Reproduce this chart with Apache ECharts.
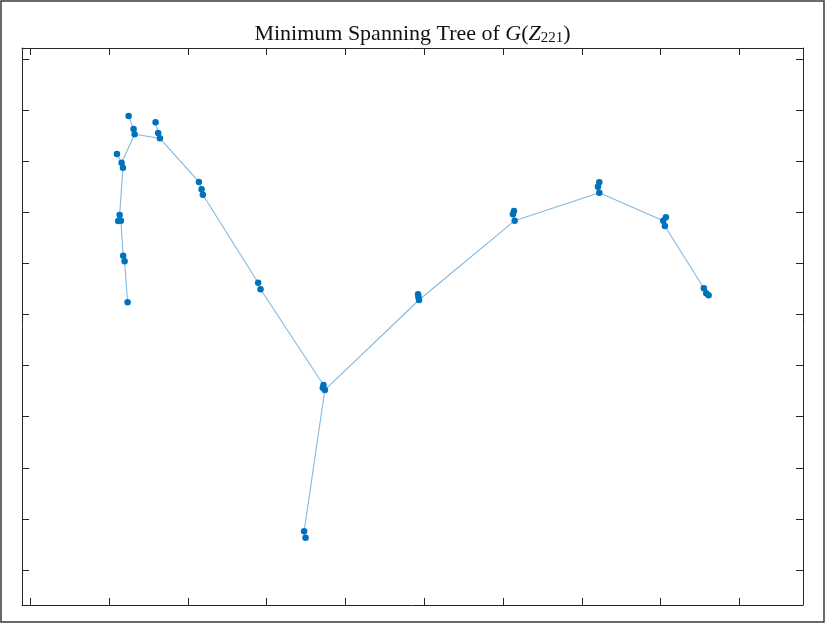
<!DOCTYPE html>
<html>
<head>
<meta charset="utf-8">
<script src="https://cdn.jsdelivr.net/npm/echarts@6/dist/echarts.min.js"></script>
<style>
  html, body { margin: 0; padding: 0; background: #fff; }
  #chart { width: 825px; height: 623px; }
</style>
</head>
<body>
<div id="chart"></div>
<script>
// Node coordinates of the embedded points
const nodeX = [1.235, 1.197, 1.179, 1.150, 1.116, 1.134, 1.176, 1.159, 1.100, 1.324,
               1.311, 1.248, 1.645, 1.623, 1.590, 2.140, 2.174, 2.190, 2.892, 2.922,
               3.721, 3.712, 3.738, 3.475, 3.493, 4.921, 4.926, 4.933, 6.138, 6.125,
               6.147, 7.221, 7.204, 7.221, 8.066, 8.033, 8.053, 8.548, 8.578, 8.608];
const nodeY = [5.239, 6.041, 6.151, 6.836, 6.830, 6.947, 7.873, 7.971, 8.141, 8.526,
               8.630, 8.885, 8.448, 8.552, 8.761, 7.593, 7.450, 7.344, 5.622, 5.493,
               3.620, 3.568, 3.523, 0.757, 0.632, 5.395, 5.342, 5.284, 7.025, 6.961,
               6.836, 7.587, 7.501, 7.384, 6.902, 6.836, 6.732, 5.513, 5.415, 5.376];

// Tree edges (node index pairs)
const edgeFrom = [0, 1, 2, 3, 4, 5, 6, 7, 7, 9, 10, 9, 12, 13, 12, 15, 16, 17, 18, 19,
                  20, 21, 22, 23, 22, 27, 26, 27, 30, 29, 30, 33, 32, 33, 35, 35, 36, 37, 38];
const edgeTo   = [1, 2, 3, 4, 5, 6, 7, 8, 9, 10, 11, 12, 13, 14, 15, 16, 17, 18, 19, 20,
                  21, 22, 23, 24, 27, 26, 25, 30, 29, 28, 33, 32, 31, 35, 34, 36, 37, 38, 39];

// Axis tick positions (no labels drawn)
const xTicks = [0, 1, 2, 3, 4, 5, 6, 7, 8, 9];
const yTicks = [0, 1, 2, 3, 4, 5, 6, 7, 8, 9, 10];

const X_MIN = -0.105, X_MAX = 9.806;
const Y_MIN = -0.685, Y_MAX = 10.215;

const chart = echarts.init(document.getElementById('chart'), null, { renderer: 'canvas' });

const axisColor = '#262626';

function xAxisDef(pos) {
  return {
    type: 'value', position: pos, min: X_MIN, max: X_MAX,
    axisLine: { show: true, onZero: false, lineStyle: { color: axisColor, width: 1 } },
    axisTick: { show: true, inside: true, length: 7, customValues: xTicks,
                lineStyle: { color: axisColor, width: 1 } },
    axisLabel: { show: false },
    splitLine: { show: false }
  };
}
function yAxisDef(pos) {
  return {
    type: 'value', position: pos, min: Y_MIN, max: Y_MAX,
    axisLine: { show: true, onZero: false, lineStyle: { color: axisColor, width: 1 } },
    axisTick: { show: true, inside: true, length: 7, customValues: yTicks,
                lineStyle: { color: axisColor, width: 1 } },
    axisLabel: { show: false },
    splitLine: { show: false }
  };
}

const nodes = nodeX.map((x, i) => ({ value: [x, nodeY[i]] }));
const links = edgeFrom.map((s, i) => ({ source: s, target: edgeTo[i] }));

const serif = 'Liberation Serif';

chart.setOption({
  animation: false,
  backgroundColor: '#ffffff',
  title: {
    left: 'center',
    top: 17,
    text: '{t|Minimum Spanning Tree of }{g|G}{t|(}{z|Z}{s|221}{t|)}',
    textStyle: {
      fontWeight: 'normal',
      rich: {
        t: { fontFamily: serif, fontSize: 22, fontWeight: 'normal', color: '#111' },
        g: { fontFamily: serif, fontSize: 22, fontWeight: 'normal', fontStyle: 'italic', color: '#111' },
        z: { fontFamily: serif, fontSize: 22, fontWeight: 'normal', fontStyle: 'italic', color: '#111' },
        s: { fontFamily: serif, fontSize: 15, fontWeight: 'normal', color: '#111',
             verticalAlign: 'bottom', padding: [9, 0, 0, 0] }
      }
    }
  },
  graphic: [{
    type: 'rect',
    shape: { x: 1, y: 1, width: 823, height: 621 },
    style: { fill: 'none', stroke: '#3a3a3a', lineWidth: 1.5 },
    silent: true
  }],
  grid: { left: 22, top: 48, width: 781, height: 557, containLabel: false },
  xAxis: [xAxisDef('bottom'), xAxisDef('top')],
  yAxis: [yAxisDef('left'), yAxisDef('right')],
  series: [{
    type: 'graph',
    coordinateSystem: 'cartesian2d',
    xAxisIndex: 0,
    yAxisIndex: 0,
    symbol: 'circle',
    symbolSize: 6.5,
    data: nodes,
    links: links,
    itemStyle: { color: '#0072BD' },
    lineStyle: { color: '#80b9e3', width: 1.1, opacity: 1, curveness: 0 },
    label: { show: false },
    silent: true
  }]
});
</script>
</body>
</html>
